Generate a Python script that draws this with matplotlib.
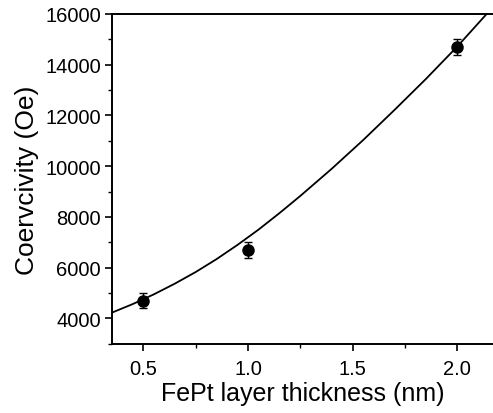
import matplotlib
matplotlib.use("Agg")
from matplotlib import pyplot as plt
from matplotlib.ticker import MultipleLocator

plt.rcParams['font.family'] = ['Liberation Sans', 'DejaVu Sans']

# measured points
thickness = [0.5, 1.0, 2.0]
coercivity = [4700, 6700, 14700]
err = [300, 300, 300]

# fit curve
fit_x = [0.35, 0.45, 0.55, 0.65, 0.75, 0.85, 0.95, 1.05, 1.15, 1.25, 1.4, 1.55, 1.7, 1.85, 2.0, 2.14]
fit_y = [4230, 4570, 4950, 5370, 5830, 6340, 6900, 7500, 8150, 8830, 9900, 11030, 12220, 13440, 14720, 16000]

xticks = [0.5, 1.0, 1.5, 2.0]
yticks = [4000, 6000, 8000, 10000, 12000, 14000, 16000]

fig = plt.figure(figsize=(4.93, 4.14), dpi=100)
ax = fig.add_axes([0.227, 0.167, 0.773, 0.797])

ax.plot(fit_x, fit_y, color='black', lw=1.3)
ax.errorbar(thickness, coercivity, yerr=err, fmt='o', color='black',
            ms=8, elinewidth=1.0, capsize=3, capthick=1.0)

ax.set_xlim(0.35, 2.17)
ax.set_ylim(3000, 16000)
ax.set_xticks(xticks)
ax.set_xticklabels(['0.5', '1.0', '1.5', '2.0'])
ax.set_yticks(yticks)
ax.xaxis.set_minor_locator(MultipleLocator(0.25))
ax.yaxis.set_minor_locator(MultipleLocator(1000))

ax.tick_params(which='major', direction='out', length=5, width=1.2, labelsize=14.5)
ax.tick_params(axis='y', which='major', pad=3)
ax.tick_params(axis='x', which='major', pad=6)
ax.tick_params(which='minor', direction='out', length=3, width=1.0)
ax.tick_params(top=False, right=False)

ax.spines['right'].set_visible(False)
for s in ['left', 'bottom', 'top']:
    ax.spines[s].set_linewidth(1.4)

ax.set_xlabel('FePt layer thickness (nm)', fontsize=18, labelpad=2)
ax.set_ylabel('Coervcivity (Oe)', fontsize=19, labelpad=4)

fig.savefig('out.png', dpi=100)
